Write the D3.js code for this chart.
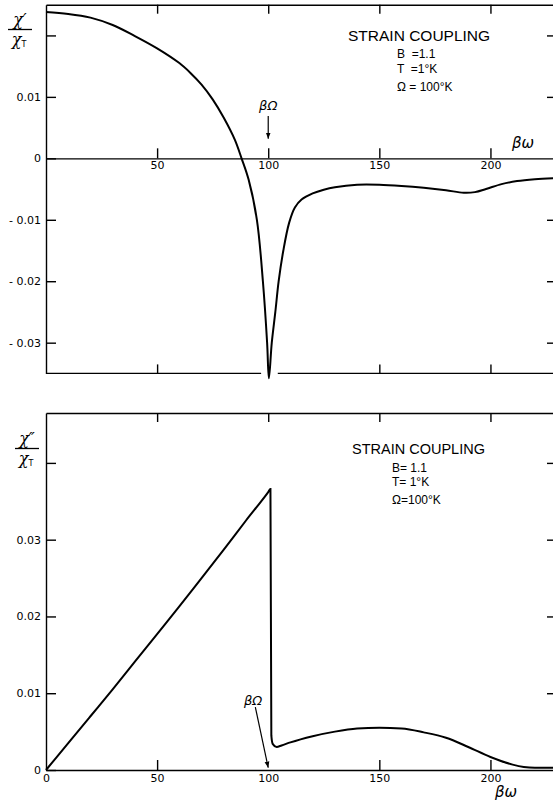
<!DOCTYPE html><html><head><meta charset="utf-8">
<script src="https://cdn.jsdelivr.net/npm/d3@7"></script>
<style>body{margin:0;background:#fff}</style></head>
<body><svg id="fig"></svg>
<script>

// chi' / chi_T  (top panel)
var realW = [0, 10, 20, 30, 40, 50, 60, 65, 70, 75, 80, 85, 88, 91.2, 94.9, 97.6, 99.5, 100.3,
             101.6, 103.2, 104.7, 106.8, 109.4, 112, 115, 120, 125, 130, 140, 150, 160, 170,
             180, 188, 193, 198, 205, 212, 220, 229.5];
var realV = [0.0238, 0.0235, 0.0229, 0.0217, 0.0199, 0.0179, 0.0155, 0.0139, 0.0120, 0.0096, 0.0066,
             0.0030, 0, -0.0035, -0.010, -0.020, -0.030, -0.0358,
             -0.030, -0.025, -0.020, -0.015, -0.0105, -0.0080, -0.0067, -0.0057, -0.0051,
             -0.0047, -0.0043, -0.0043, -0.0045, -0.0048, -0.0052, -0.0056, -0.0055, -0.0050,
             -0.0042, -0.0037, -0.0034, -0.0032];

// chi'' / chi_T  (bottom panel)
var imagW = [0, 10, 20, 30, 40, 50, 60, 70, 80, 90, 100, 101, 101.4, 102, 103.8, 106, 110, 120, 130,
             140, 150, 160, 170, 180, 190, 200, 210, 215, 220, 229.5];
var imagV = [0, 0.0035, 0.0070, 0.0105, 0.0141, 0.0177, 0.0213, 0.0250, 0.0287, 0.0325, 0.0362,
             0.0366, 0.0045, 0.0034, 0.0030, 0.0032, 0.0036, 0.0044, 0.0050, 0.0054, 0.0055,
             0.0054, 0.0049, 0.0042, 0.0030, 0.0017, 0.0007, 0.0004, 0.0003, 0.0003];

var xTicks = [50, 100, 150, 200];
var yTicksTop = [0.02, 0.01, 0, -0.01, -0.02, -0.03];
var yTicksBot = [0.04, 0.03, 0.02, 0.01, 0];
var paramsTop = ["B  =1.1", "T  =1°K", "Ω = 100°K"];
var paramsBot = ["B= 1.1", "T= 1°K", "Ω=100°K"];

var W = 553, H = 806;
var svg = d3.select("#fig").attr("width", W).attr("height", H)
  .style("font-family", "DejaVu Sans, sans-serif");

var x = d3.scaleLinear().domain([0, 229.5]).range([46, 556]);
var yT = d3.scaleLinear().domain([-0.035, 0.025]).range([373.4, 4.7]);
var yB = d3.scaleLinear().domain([0, 0.0465]).range([770, 413]);

var lw = 1.4;

function fmtTop(d) {
  if (d == 0.02) return "";
  if (d == 0) return "0";
  if (d < 0) return "- " + (-d).toFixed(2);
  return d.toFixed(2);
}
function fmtBot(d) {
  if (d == 0.04) return "";
  if (d == 0) return "0";
  return d.toFixed(2);
}

function style(g) {
  g.selectAll("line, path").attr("stroke", "#000").attr("stroke-width", lw);
  g.selectAll("text").attr("fill", "#000").style("font-size", "11px")
    .style("font-family", "DejaVu Sans, sans-serif");
}

var defs = svg.append("defs");
defs.append("marker").attr("id", "head")
  .attr("viewBox", "0 0 10 10").attr("refX", 10).attr("refY", 5)
  .attr("markerWidth", 5).attr("markerHeight", 6).attr("orient", "auto")
  .append("path").attr("d", "M0,1 L10,5 L0,9 Z").attr("fill", "#000");

// y label chi/chi_T as a little fraction
function fracLabel(g, cx, yb, prime) {
  g.append("text").attr("x", cx).attr("y", yb).attr("text-anchor", "middle")
    .style("font-family", "DejaVu Serif, serif").style("font-style", "italic").style("font-size", "16px")
    .text("χ" + prime);
  g.append("line").attr("x1", cx - 12).attr("x2", cx + 12).attr("y1", yb + 4.5).attr("y2", yb + 4.5)
    .attr("stroke", "#000").attr("stroke-width", 1.3);
  var t = g.append("text").attr("x", cx - 1).attr("y", yb + 20).attr("text-anchor", "middle")
    .style("font-family", "DejaVu Serif, serif").style("font-size", "16px");
  t.append("tspan").style("font-style", "italic").text("χ");
  t.append("tspan").attr("dy", 2).style("font-size", "8px").style("font-family", "DejaVu Sans, sans-serif").text("T");
}

/* ---------- top panel ---------- */
var gTop = svg.append("g");

gTop.append("g").attr("transform", "translate(" + x(0) + ",0)")
  .call(d3.axisLeft(yT).tickValues(yTicksTop).tickSize(-10).tickSizeOuter(0).tickPadding(5).tickFormat(fmtTop))
  .call(style);
gTop.append("g").attr("transform", "translate(" + x.range()[1] + ",0)")
  .call(d3.axisRight(yT).tickValues(yTicksTop.filter(function(d){ return d != 0; })).tickSize(-9).tickSizeOuter(0).tickFormat(""))
  .call(style);
gTop.append("g").attr("transform", "translate(0," + yT.range()[1] + ")")
  .call(d3.axisTop(x).tickValues(xTicks).tickSize(-9).tickSizeOuter(0).tickFormat(""))
  .call(style);
// zero line with labels
gTop.append("g").attr("transform", "translate(0," + yT(0) + ")")
  .call(d3.axisBottom(x).tickValues(xTicks).tickSize(-10).tickSizeOuter(0).tickPadding(3))
  .call(style);
// bottom frame with a gap where the curve dips through
var bf = gTop.append("g").attr("transform", "translate(0," + yT.range()[0] + ")")
  .call(d3.axisBottom(x).tickValues([50, 150, 200]).tickSize(-9).tickFormat(""))
  .call(style);
bf.select(".domain").remove();
[[0, 96.8], [104.3, 229.5]].forEach(function(s) {
  gTop.append("line").attr("x1", x(s[0])).attr("x2", x(s[1]))
    .attr("y1", yT.range()[0]).attr("y2", yT.range()[0])
    .attr("stroke", "#000").attr("stroke-width", lw);
});

gTop.append("path").datum(d3.zip(realW, realV))
  .attr("fill", "none").attr("stroke", "#000").attr("stroke-width", 2)
  .attr("d", d3.line().x(function(d){ return x(d[0]); }).y(function(d){ return yT(d[1]); })
    .curve(d3.curveCatmullRom.alpha(0.5)));

// beta Omega arrow
gTop.append("text").attr("x", x(100)).attr("y", 110).attr("text-anchor", "middle")
  .style("font-size", "13px").style("font-style", "italic").text("βΩ");
gTop.append("line").attr("x1", x(100)).attr("x2", x(100))
  .attr("y1", yT(0.0069)).attr("y2", yT(0.0032))
  .attr("stroke", "#000").attr("stroke-width", 1.2).attr("marker-end", "url(#head)");
gTop.append("text").attr("x", 512).attr("y", 148)
  .style("font-size", "15px").style("font-style", "italic").text("βω");

gTop.append("text").attr("x", 348).attr("y", 41)
  .style("font-family", "Liberation Sans, sans-serif").style("font-size", "15.5px").text("STRAIN COUPLING");
gTop.selectAll(".par").data(paramsTop).enter().append("text")
  .attr("x", 397).attr("y", function(d, i){ return [58, 73, 91][i]; })
  .style("font-family", "Liberation Sans, sans-serif").style("font-size", "12px")
  .style("white-space", "pre")
  .text(function(d){ return d; });

fracLabel(gTop, 20, 25, "′");

/* ---------- bottom panel ---------- */
var gBot = svg.append("g");

gBot.append("g").attr("transform", "translate(" + x(0) + ",0)")
  .call(d3.axisLeft(yB).tickValues(yTicksBot).tickSize(-10).tickSizeOuter(0).tickPadding(5).tickFormat(fmtBot))
  .call(style);
gBot.append("g").attr("transform", "translate(" + x.range()[1] + ",0)")
  .call(d3.axisRight(yB).tickValues(yTicksBot.filter(function(d){ return d != 0; })).tickSize(-9).tickSizeOuter(0).tickFormat(""))
  .call(style);
gBot.append("g").attr("transform", "translate(0," + yB.range()[1] + ")")
  .call(d3.axisTop(x).tickValues(xTicks).tickSize(-9).tickSizeOuter(0).tickFormat(""))
  .call(style);
var bx = gBot.append("g").attr("transform", "translate(0," + yB(0) + ")")
  .call(d3.axisBottom(x).tickValues([0].concat(xTicks)).tickSize(-10).tickSizeOuter(0).tickPadding(4))
  .call(style);
bx.selectAll(".tick").filter(function(d){ return d == 0 || d == 100; }).select("line").remove();

gBot.append("path").datum(d3.zip(imagW, imagV))
  .attr("fill", "none").attr("stroke", "#000").attr("stroke-width", 2)
  .attr("d", d3.line().x(function(d){ return x(d[0]); }).y(function(d){ return yB(d[1]); })
    .curve(d3.curveMonotoneX));

gBot.append("text").attr("x", 253).attr("y", 705).attr("text-anchor", "middle")
  .style("font-size", "13px").style("font-style", "italic").text("βΩ");
gBot.append("line").attr("x1", x(94.2)).attr("x2", x(100))
  .attr("y1", yB(0.0082)).attr("y2", yB(0.0003))
  .attr("stroke", "#000").attr("stroke-width", 1.2).attr("marker-end", "url(#head)");
gBot.append("text").attr("x", 495).attr("y", 797)
  .style("font-size", "15px").style("font-style", "italic").text("βω");

gBot.append("text").attr("x", 352).attr("y", 454)
  .style("font-family", "Liberation Sans, sans-serif").style("font-size", "14.5px").text("STRAIN COUPLING");
gBot.selectAll(".par").data(paramsBot).enter().append("text")
  .attr("x", 392).attr("y", function(d, i){ return [472, 486, 504][i]; })
  .style("font-family", "Liberation Sans, sans-serif").style("font-size", "12px")
  .text(function(d){ return d; });

fracLabel(gBot, 27, 444, "″");

</script></body></html>
